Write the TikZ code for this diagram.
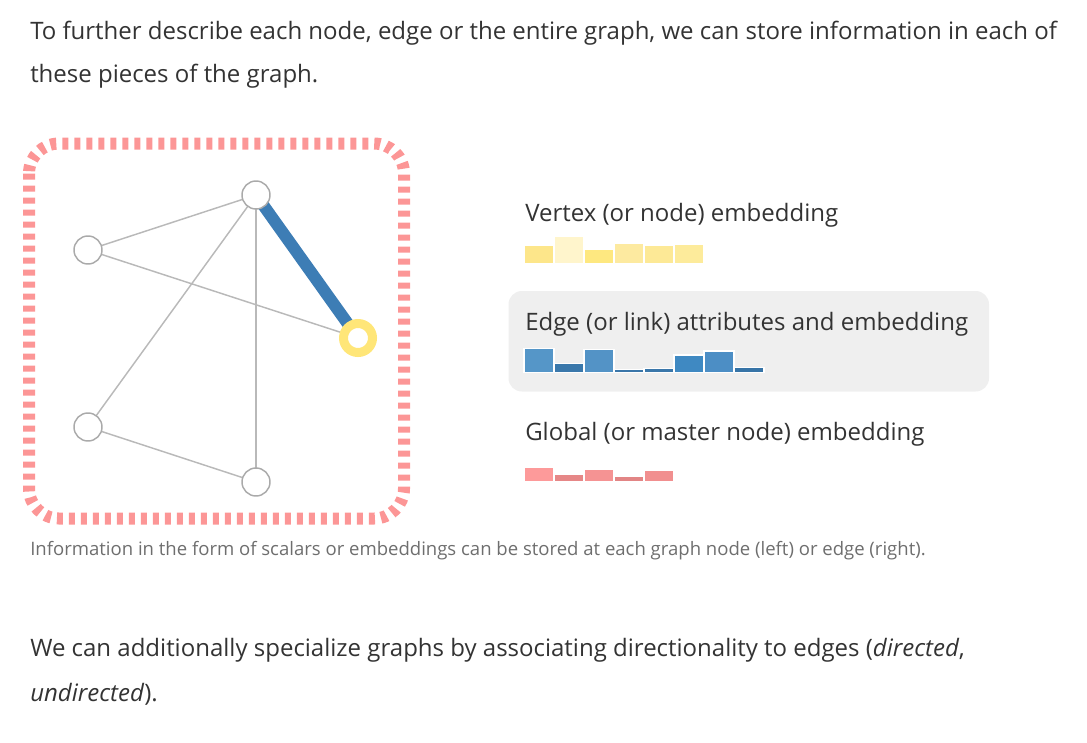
\documentclass[tikz,border=0pt]{standalone}
\usepackage{fontspec}
\setmainfont{Open Sans}
\usetikzlibrary{positioning, backgrounds}
\definecolor{txtdark}{RGB}{51,51,51}
\definecolor{capgray}{RGB}{110,110,110}
\definecolor{nodegray}{RGB}{170,170,170}
\definecolor{linkgray}{RGB}{185,185,185}
\definecolor{boxgray}{RGB}{239,239,239}
\definecolor{framered}{RGB}{252,150,150}
\definecolor{edgeblue}{RGB}{61,125,181}
\definecolor{ringyellow}{RGB}{255,230,120}
% embedding bar colours
\definecolor{vy1}{RGB}{253,230,138}
\definecolor{vy2}{RGB}{255,245,204}
\definecolor{vy3}{RGB}{254,232,128}
\definecolor{vy4}{RGB}{253,234,160}
\definecolor{vy5}{RGB}{253,233,150}
\definecolor{vy6}{RGB}{253,235,155}
\definecolor{eb1}{RGB}{85,150,200}
\definecolor{eb2}{RGB}{58,120,171}
\definecolor{eb3}{RGB}{83,147,198}
\definecolor{eb4}{RGB}{58,118,169}
\definecolor{eb5}{RGB}{58,119,170}
\definecolor{eb6}{RGB}{63,137,194}
\definecolor{eb7}{RGB}{76,142,197}
\definecolor{eb8}{RGB}{55,116,167}
\definecolor{gr1}{RGB}{253,154,154}
\definecolor{gr2}{RGB}{230,135,135}
\definecolor{gr3}{RGB}{245,147,147}
\definecolor{gr4}{RGB}{226,133,133}
\definecolor{gr5}{RGB}{241,143,143}

\begin{document}
\begin{tikzpicture}[x=0.75pt, y=-0.75pt,
    para/.style={anchor=base west, inner sep=0pt, text=txtdark,
                 font=\fontsize{18}{22}\selectfont},
    lbl/.style={para},
    capt/.style={anchor=base west, inner sep=0pt, text=capgray,
                 font=\fontsize{13.9}{17}\selectfont},
    vert/.style={circle, draw=nodegray, fill=white, line width=1.1pt,
                 minimum size=21pt, inner sep=0pt},
    ring/.style={circle, draw=ringyellow, fill=white, line width=6.75pt,
                 minimum size=21.75pt, inner sep=0pt},
    link/.style={linkgray, line width=1.1pt},
    bar/.style={draw=white, line width=1.1pt}
  ]
    \useasboundingbox (0,0) rectangle (1087,742);

    % text around the figure
    \node[para] (intro1) at (30,40) {To further describe each node, edge or the entire graph, we can store information in each of};
    \node[para] (intro2) at (30,82.7) {these pieces of the graph.};

    % dashed frame = global attribute
    \draw[framered, line width=9pt, dash pattern=on 4.5pt off 4.5pt,
          rounded corners=22.5pt] (29,143.5) rectangle (404,518.5);

    % graph
    \node[vert] (left) at (88,250) {};
    \node[vert] (top) at (256,195) {};
    \node[vert] (lowleft) at (88,427) {};
    \node[vert] (bottom) at (256,482) {};
    \node[ring] (right) at (358,338) {};
    \begin{scope}[on background layer]
      \draw[link] (left.center) -- (top.center);
      \draw[link] (left.center) -- (right.center);
      \draw[link] (top.center) -- (lowleft.center);
      \draw[link] (top.center) -- (bottom.center);
      \draw[link] (lowleft.center) -- (bottom.center);
      \draw[edgeblue, line width=9pt] (top.center) -- (right.center);
    \end{scope}

    \node[lbl] (vlabel) at (525,221.7) {Vertex (or node) embedding};
    \fill[boxgray, rounded corners=10pt] (508.5,291) rectangle (989,391.5);
    \node[lbl] (elabel) at (525,330.7) {Edge (or link) attributes and embedding};
    \node[lbl] (glabel) at (525,440.5) {Global (or master node) embedding};

    % embeddings
    \foreach \h/\c [count=\i from 0] in {17.8/vy1, 27.5/vy2, 14.5/vy3, 20.2/vy4, 18.5/vy5, 19.5/vy6}
      \filldraw[bar, fill=\c] (524+30*\i,263.5) rectangle ++(30,-\h);
    \foreach \h/\c [count=\i from 0] in {24.2/eb1, 9.2/eb2, 23.2/eb3, 3.2/eb4, 4.2/eb5, 17.5/eb6, 21.5/eb7, 5.2/eb8}
      \filldraw[bar, fill=\c] (524+30*\i,372.5) rectangle ++(30,-\h);
    \foreach \h/\c [count=\i from 0] in {14.5/gr1, 7.5/gr2, 12.2/gr3, 5.5/gr4, 11.5/gr5}
      \filldraw[bar, fill=\c] (524+30*\i,481.5) rectangle ++(30,-\h);

    \node[capt] (caption) at (30,555.7) {Information in the form of scalars or embeddings can be stored at each graph node (left) or edge (right).};
    \node[para] (outro1) at (30,656.7) {We can additionally specialize graphs by associating directionality to edges (\textit{directed},};
    \node[para] (outro2) at (30,701) {\textit{undirected}).};
  \end{tikzpicture}
\end{document}
